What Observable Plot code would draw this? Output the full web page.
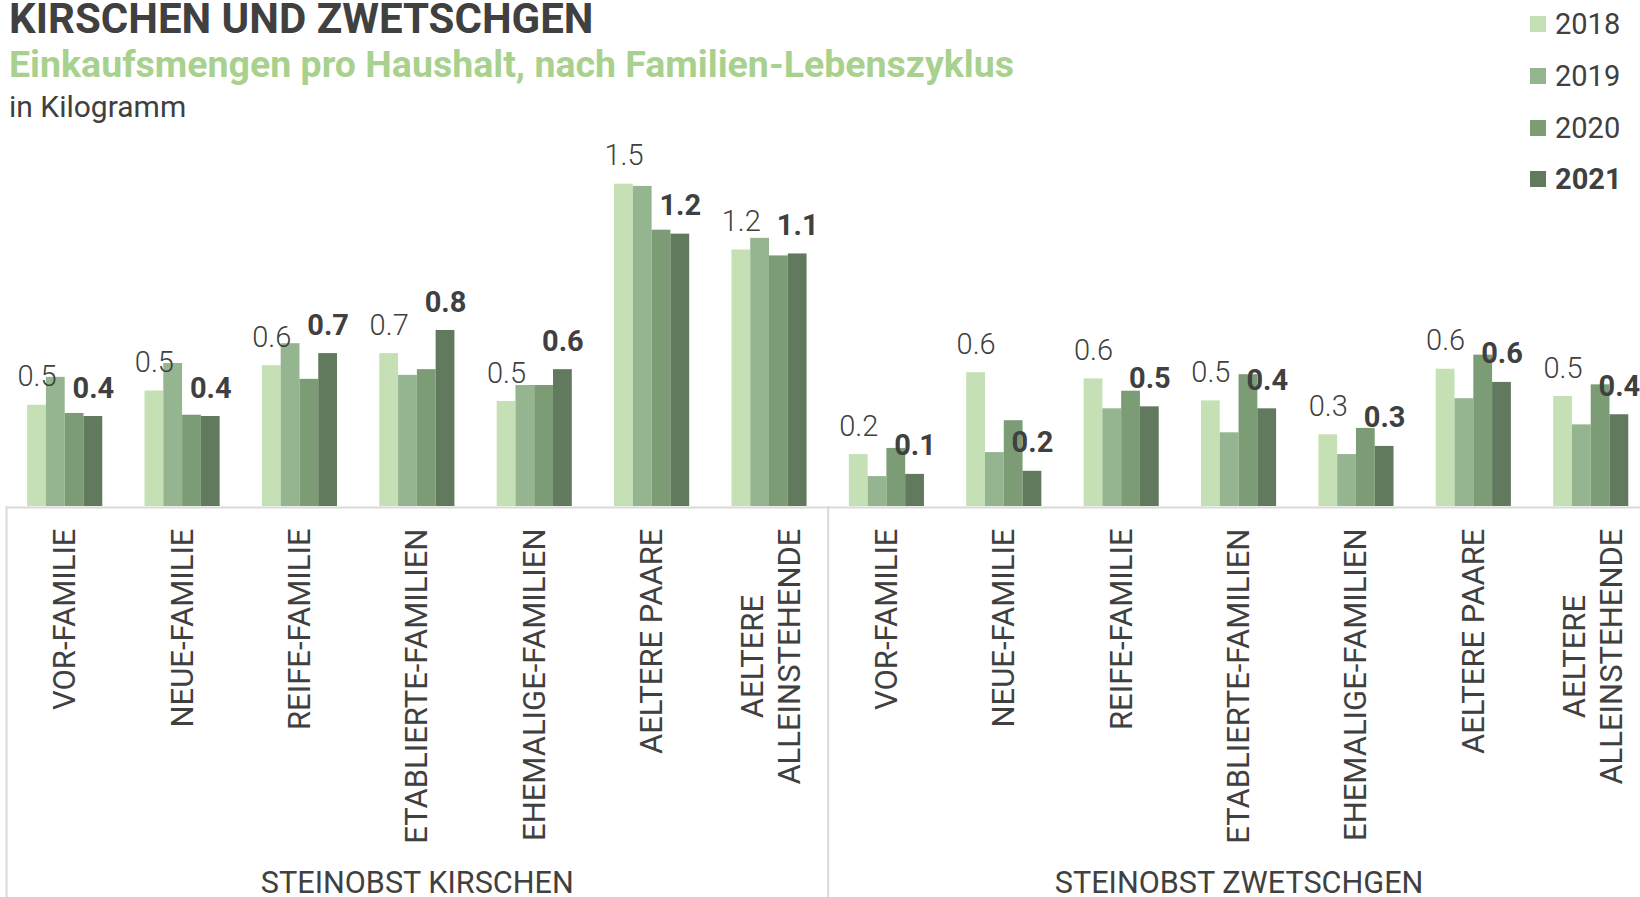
<!DOCTYPE html>
<html><head><meta charset="utf-8">
<script src="https://cdn.jsdelivr.net/npm/d3@7"></script>
<script src="https://cdn.jsdelivr.net/npm/@observablehq/plot@0.6"></script>
<style>
html,body{margin:0;padding:0;overflow:hidden;background:#fff;width:1640px;height:897px;}
body{position:relative;font-family:Roboto,sans-serif;color:#404040;}
.t{position:absolute;left:9px;white-space:nowrap;line-height:1;}
#title{top:0px;line-height:38.4px;font-size:42px;font-weight:700;color:#404040;}
#subtitle{top:45.6px;font-size:37.5px;font-weight:700;color:#a9d18e;}
#unit{top:91.8px;font-size:30px;font-weight:400;color:#404040;}
.lg-sq{position:absolute;left:1530px;width:16px;height:16px;}
.lg-tx{position:absolute;left:1555px;font-size:29px;line-height:1;color:#404040;white-space:nowrap;}
#chart{position:absolute;left:0;top:130px;}
</style>
</head><body>
<div class="t" id="title">KIRSCHEN UND ZWETSCHGEN</div>
<div class="t" id="subtitle">Einkaufsmengen pro Haushalt, nach Familien-Lebenszyklus</div>
<div class="t" id="unit">in Kilogramm</div>
<div id="legend"></div>
<div id="chart"></div>
<script>
// ---- data ----
const panels = ["STEINOBST KIRSCHEN", "STEINOBST ZWETSCHGEN"];
const groups = ["VOR-FAMILIE", "NEUE-FAMILIE", "REIFE-FAMILIE", "ETABLIERTE-FAMILIEN", "EHEMALIGE-FAMILIEN", "AELTERE PAARE", "AELTERE\nALLEINSTEHENDE"];
const years = ["2018", "2019", "2020", "2021"];
const colors = ["#c5e0b4", "#94b590", "#7c9c76", "#61795c"];

const kirschen2018 = [0.46, 0.525, 0.64, 0.695, 0.477, 1.465, 1.166];
const kirschen2019 = [0.587, 0.65, 0.74, 0.596, 0.55, 1.455, 1.219];
const kirschen2020 = [0.423, 0.415, 0.578, 0.622, 0.55, 1.256, 1.139];
const kirschen2021 = [0.409, 0.409, 0.695, 0.80, 0.622, 1.238, 1.148];

const zwetschgen2018 = [0.236, 0.608, 0.58, 0.48, 0.326, 0.624, 0.50];
const zwetschgen2019 = [0.136, 0.245, 0.444, 0.335, 0.236, 0.49, 0.371];
const zwetschgen2020 = [0.264, 0.39, 0.524, 0.599, 0.355, 0.688, 0.553];
const zwetschgen2021 = [0.146, 0.16, 0.453, 0.444, 0.273, 0.564, 0.417];

const series = [
  [kirschen2018, kirschen2019, kirschen2020, kirschen2021],
  [zwetschgen2018, zwetschgen2019, zwetschgen2020, zwetschgen2021]
];

// ---- table ----
const nG = groups.length;
const barW = 0.16, pad = (1 - years.length * barW) / 2;
const rows = [];
panels.forEach((p, pi) => groups.forEach((g, gi) => years.forEach((yr, yi) => {
  const slot = pi * nG + gi;
  rows.push({panel: p, group: g, year: yr, value: series[pi][yi][gi],
    x1: slot + pad + yi * barW, x2: slot + pad + (yi + 1) * barW, xc: slot + pad + (yi + 0.5) * barW});
})));
const slots = [];
panels.forEach((p, pi) => groups.forEach((g, gi) => slots.push({panel: p, group: g, xc: pi * nG + gi + 0.5})));
const panelRows = panels.map((p, pi) => ({panel: p, xc: pi * nG + nG / 2}));
const bounds = d3.range(panels.length + 1).map(i => i * nG);

// legend
const lg = document.getElementById("legend");
years.forEach((y, i) => {
  const c = 24 + i * 51.8;
  const sq = document.createElement("div");
  sq.className = "lg-sq"; sq.style.top = (c - 8) + "px"; sq.style.background = colors[i];
  const tx = document.createElement("div");
  tx.className = "lg-tx"; tx.style.top = (c - 14.1) + "px"; tx.textContent = y;
  if (i === years.length - 1) tx.style.fontWeight = "700";
  lg.appendChild(sq); lg.appendChild(tx);
});

// measure longest line of multi-line labels
const tickSize = 31;
const ctx = document.createElement("canvas").getContext("2d");
ctx.font = `400 ${tickSize}px Roboto`;
const single = slots.filter(d => !d.group.includes("\n"));
const multi = slots.filter(d => d.group.includes("\n"));
const multiLen = d3.max(multi, d => d3.max(d.group.split("\n"), s => ctx.measureText(s).width)) || 0;

const H = 767, base = 376;
const fmt = d3.format(".1f");
const plot = Plot.plot({
  width: 1650, height: H,
  marginLeft: 6, marginRight: 0.6, marginTop: 0, marginBottom: H - base,
  style: {maxWidth: "none", fontFamily: "Roboto, sans-serif", overflow: "visible", background: "transparent"},
  x: {type: "linear", domain: [0, panels.length * nG], axis: null},
  y: {domain: [0, base / 220], axis: null},
  color: {domain: years, range: colors},
  marks: [
    Plot.ruleY([0], {stroke: "#d9d9d9", strokeWidth: 2, dy: 1}),
    Plot.ruleX(bounds, {x: d => d, y1: 0, stroke: "#d9d9d9", strokeWidth: 2, insetBottom: -(H - base)}),
    Plot.rectY(rows, {x1: "x1", x2: "x2", y1: 0, y2: "value", fill: "year"}),
    Plot.text(rows.filter(d => d.year === years[0]), {x: "xc", y: "value", text: d => fmt(d.value),
      lineAnchor: "bottom", dy: -19, fontSize: 29, fontWeight: 300, fill: "#404040"}),
    Plot.text(rows.filter(d => d.year === years[years.length - 1]), {x: "xc", y: "value", text: d => fmt(d.value),
      lineAnchor: "bottom", dy: -19, fontSize: 29, fontWeight: 700, fill: "#404040"}),
    Plot.text(single, {x: "xc", text: "group", frameAnchor: "bottom", rotate: -90, textAnchor: "end",
      lineAnchor: "middle", dy: 22, fontSize: tickSize, fill: "#404040"}),
    Plot.text(multi, {x: "xc", text: "group", frameAnchor: "bottom", rotate: -90, textAnchor: "middle",
      lineAnchor: "middle", lineHeight: 1.2, dy: 22 + multiLen / 2, fontSize: tickSize, fill: "#404040"}),
    Plot.text(panelRows, {x: "xc", text: "panel", frameAnchor: "bottom", lineAnchor: "bottom", dy: 386,
      fontSize: 30.6, fill: "#404040"})
  ]
});
document.getElementById("chart").appendChild(plot);
</script>
</body></html>
